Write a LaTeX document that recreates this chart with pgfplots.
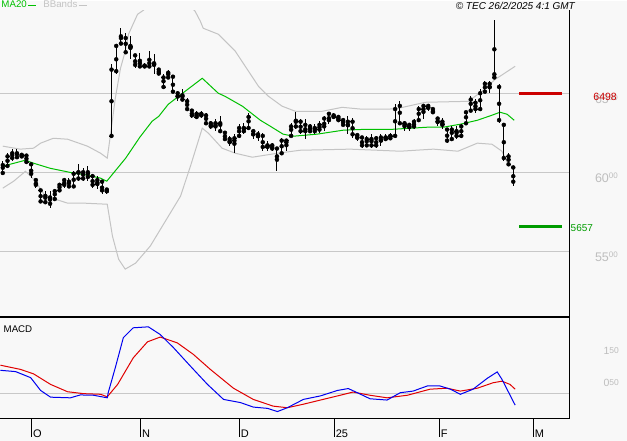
\documentclass[border=0pt]{standalone}
\usepackage{pgfplots}
\pgfplotsset{compat=1.18}
\usepackage{pgfplotstable}
\usepackage{fontspec}
\setmainfont{Liberation Sans}
\definecolor{bg}{HTML}{F8F8F8}
\definecolor{gridgray}{HTML}{C8C8C8}
\definecolor{bandgray}{HTML}{C4C4C4}
\definecolor{tickgray}{HTML}{BEBEBE}
\definecolor{magreen}{HTML}{00C000}
\definecolor{macdblue}{HTML}{0000F0}
\definecolor{sigred}{HTML}{E00000}
\definecolor{resred}{HTML}{CC0000}
\definecolor{supgreen}{HTML}{009C00}
\newcommand{\tl}[2]{#1\raisebox{3.2pt}{\fontsize{8}{8}\selectfont #2}}
\newcommand{\tm}[2]{#1\raisebox{0.8pt}{\fontsize{8.5}{8}\selectfont #2}}

\pgfplotstableread{
k O H L C
0 5995 6070 5987 6045
1 6040 6120 6025 6100
2 6090 6146 6070 6120
3 6120 6146 6083 6095
4 6100 6120 6089 6110
5 6105 6114 6057 6065
6 6050 6057 5962 5990
7 5950 5956 5899 5920
8 5885 5892 5804 5815
9 5810 5880 5797 5850
10 5840 5880 5772 5800
11 5830 5892 5829 5880
12 5885 5930 5880 5920
13 5920 5962 5899 5950
14 5940 5962 5899 5910
15 5910 6006 5899 5990
16 6000 6051 5943 5960
17 5960 6025 5943 6000
18 6000 6038 5943 5970
19 5975 5987 5899 5920
20 5925 5975 5892 5950
21 5940 5943 5861 5885
22 5880 5899 5861 5890
23 6230 6684 6215 6650
24 6640 6810 6620 6800
25 6815 6912 6810 6850
26 6850 6880 6747 6760
27 6790 6861 6715 6800
28 6740 6747 6658 6680
29 6690 6753 6658 6670
30 6670 6690 6658 6675
31 6670 6766 6658 6690
32 6690 6747 6620 6680
33 6650 6652 6620 6625
34 6600 6620 6532 6540
35 6600 6646 6595 6630
36 6605 6608 6500 6510
37 6500 6513 6449 6480
38 6480 6525 6449 6460
39 6450 6468 6386 6400
40 6390 6399 6342 6360
41 6350 6386 6335 6370
42 6360 6386 6342 6370
43 6360 6373 6304 6310
44 6310 6323 6272 6290
45 6290 6335 6260 6310
46 6310 6354 6247 6260
47 6250 6260 6196 6210
48 6210 6228 6165 6190
49 6200 6241 6120 6215
50 6230 6304 6215 6280
51 6280 6310 6241 6260
52 6280 6373 6272 6350
53 6260 6272 6209 6240
54 6240 6260 6196 6230
55 6230 6247 6133 6160
56 6160 6196 6133 6170
57 6170 6184 6133 6150
58 6150 6152 6006 6100
59 6120 6215 6114 6200
60 6190 6209 6133 6200
61 6230 6310 6228 6290
62 6290 6380 6272 6320
63 6320 6335 6241 6260
64 6260 6335 6209 6300
65 6290 6304 6247 6260
66 6260 6304 6241 6280
67 6270 6323 6247 6300
68 6290 6354 6260 6340
69 6330 6380 6304 6370
70 6360 6373 6335 6350
71 6350 6354 6323 6330
72 6330 6342 6291 6300
73 6300 6354 6241 6320
74 6320 6342 6215 6240
75 6235 6241 6196 6220
76 6220 6228 6152 6170
77 6170 6228 6165 6210
78 6210 6241 6152 6170
79 6170 6228 6152 6215
80 6200 6241 6165 6220
81 6220 6241 6196 6210
82 6215 6247 6209 6230
83 6230 6430 6215 6400
84 6420 6449 6304 6310
85 6310 6323 6260 6300
86 6290 6310 6260 6300
87 6290 6335 6272 6320
88 6330 6418 6323 6400
89 6400 6430 6335 6420
90 6420 6430 6386 6410
91 6400 6405 6367 6380
92 6340 6348 6291 6320
93 6320 6342 6272 6300
94 6270 6279 6184 6200
95 6210 6291 6209 6270
96 6260 6291 6209 6230
97 6230 6304 6215 6290
98 6310 6386 6310 6380
99 6390 6481 6386 6460
100 6440 6462 6373 6400
101 6400 6525 6386 6500
102 6510 6576 6500 6560
103 6560 6576 6500 6540
104 6600 6962 6595 6620
105 6540 6557 6310 6330
106 6300 6310 6070 6090
107 6100 6120 6038 6050
108 6030 6038 5911 5940
}\ohlc

\pgfplotstableread{
k P
0 6038
4.8 6076
6.5 6057
10 6025
15 5994
18 5981
20.7 5962
22 5943
26 6089
29 6222
31.6 6323
33 6354
35 6430
38.6 6513
42.2 6595
45.6 6500
47 6481
50.7 6418
54.5 6329
56.6 6291
59.3 6241
61.5 6228
66.5 6241
72 6266
77 6272
82.6 6272
89.8 6285
93.2 6285
96.8 6304
100.4 6329
103.5 6361
105.2 6380
106.7 6367
108.2 6329
}\maline

\pgfplotstableread{
k P
0 6165
3.7 6146
6.5 6152
8 6184
10.7 6215
13.7 6209
17.9 6165
20.7 6120
22.1 6089
22.8 6241
23.8 6468
24.9 6658
25.9 6766
26.6 6874
28.5 7000
29.7 7025
33.3 7114
37.2 7133
40.7 7019
41.8 6956
42.4 6912
45.6 6874
49.2 6766
52 6639
54.1 6544
56.2 6481
59.1 6418
61.9 6386
67.6 6386
71.8 6411
76 6399
81.5 6399
83.7 6405
89.4 6443
98.5 6449
101.4 6513
104.2 6589
105.2 6608
108.4 6671
}\upband

\pgfplotstableread{
k P
0 5899
2.3 5943
4.8 6006
6.9 5943
9 5848
11.1 5829
13.7 5804
17.1 5804
22.1 5797
23.2 5595
24.5 5449
25.9 5386
28.1 5424
31.2 5532
34.4 5690
37.6 5848
39.7 6038
42.2 6279
43.5 6247
46.4 6152
49.2 6120
52.8 6095
58.1 6120
62.9 6139
73.5 6146
84.1 6133
91.1 6146
96.3 6133
100.4 6184
103.5 6177
105.6 6133
106.9 6051
108.4 6025
}\loband

\pgfplotstableread{
k V
-0.5 0.71
2.7 0.67
5.9 0.48
8 0.08
10.1 -0.13
14.3 -0.15
16.4 -0.06
19.2 -0.07
22.1 -0.15
22.3 0.01
23.8 0.79
25.5 1.73
27.6 2.04
30.8 2.07
33.3 1.83
36.1 1.42
39.7 0.84
43.3 0.27
46.7 -0.2
50.3 -0.3
53 -0.44
56 -0.48
58.1 -0.58
60.2 -0.46
63.6 -0.2
67.2 -0.09
70.8 0.08
73.1 0.14
75 0.01
77.7 -0.18
81.3 -0.22
84.1 0.01
86.8 0.06
89.8 0.22
92.5 0.22
94.7 0.12
96.8 -0.04
99.5 0.12
102.5 0.46
104.6 0.66
105.6 0.43
108.4 -0.38
}\macd

\pgfplotstableread{
k V
-0.5 0.87
3.7 0.74
6.5 0.6
10.1 0.27
13.7 0.04
17.1 -0.02
20.7 -0.04
22.1 -0.12
24.3 0.27
27.6 1.1
30.6 1.6
33.3 1.75
36.9 1.57
40.3 1.21
43.9 0.74
48.8 0.15
53 -0.2
57.2 -0.41
60.2 -0.46
63.6 -0.35
67.2 -0.22
71.4 -0.07
74.1 0.03
77.7 -0.07
81.3 -0.15
85.6 -0.07
90.4 0.12
94 0.15
96.8 0.06
100.4 0.15
103.7 0.32
105.6 0.37
107.3 0.27
108.4 0.12
}\signal

\begin{document}
\begin{tikzpicture}
\fill[bg] (0pt,0pt) rectangle (627pt,-440pt);
\begin{axis}[
  at={(0pt,-9pt)}, anchor=north west,
  scale only axis, width=569pt, height=306pt,
  xmin=-0.486, xmax=119.8, ymin=5088.5, ymax=7025.5,
  axis line style={draw=none},
  xtick=\empty,
  ytick={5500,6000,6500},
  yticklabels={\tl{55}{00},\tl{60}{00},\tl{65}{00}},
  yticklabel pos=right,
  ytick pos=right,
  ytick align=inside,
  ytick style={draw=none},
  yticklabel style={anchor=base east, inner sep=0pt, xshift=49pt, yshift=-10pt, text=tickgray, font=\fontsize{12.5}{13}\selectfont},
  ymajorgrids, major grid style={gridgray, line width=1pt},
  clip mode=individual,
  legend style={at={(0,1)}, anchor=south west, draw=none, fill=none, legend columns=2, inner sep=0pt, font=\fontsize{9.7}{10}\selectfont, /tikz/every even column/.append style={column sep=6pt}, nodes={inner sep=0.8pt}},
  legend plot pos=right,
  legend cell align=left,
  legend image code/.code={\draw[#1] (0pt,0pt) -- (8pt,0pt);},
]
\addlegendimage{magreen, line width=1pt}
\addlegendentry{\textcolor{magreen}{MA20}}
\addlegendimage{bandgray, line width=1pt}
\addlegendentry{\textcolor{bandgray}{BBands}}
\addplot[bandgray, line width=1pt, forget plot] table[x=k, y=P] {\upband};
\addplot[bandgray, line width=1pt, forget plot] table[x=k, y=P] {\loband};
\addplot[magreen, line width=1pt, forget plot] table[x=k, y=P] {\maline};
\addplot[black, only marks, mark=none, forget plot,
  error bars/.cd, y dir=both, y explicit, error mark=none, error bar style={black, line width=1pt}]
  table[x=k, y expr={(\thisrow{H}+\thisrow{L})/2}, y error expr={(\thisrow{H}-\thisrow{L})/2}] {\ohlc};
\addplot[black, only marks, mark=none, forget plot,
  error bars/.cd, x dir=minus, x fixed=0.45, error mark=none, error bar style={black, line width=0.7pt}]
  table[x=k, y=O] {\ohlc};
\addplot[black, only marks, mark=none, forget plot,
  error bars/.cd, x dir=plus, x fixed=0.45, error mark=none, error bar style={black, line width=0.7pt}]
  table[x=k, y=C] {\ohlc};
\addplot[resred, line width=3pt, forget plot] coordinates {(109.3,6498) (118.3,6498)};
\addplot[supgreen, line width=2.5pt, forget plot] coordinates {(109.3,5657) (118.3,5657)};
\node[anchor=base east, text=resred, inner sep=0pt, font=\fontsize{10.5}{11}\selectfont, xshift=48pt, yshift=-7pt] at (axis cs:119.8,6498) {6498};
\node[anchor=base west, text=supgreen, inner sep=0pt, font=\fontsize{10}{11}\selectfont, xshift=1.5pt, yshift=-5pt] at (axis cs:119.8,5657) {5657};
\draw[black, line width=1pt] (rel axis cs:1,1) -- (rel axis cs:1,0) -- (rel axis cs:0,0);
\end{axis}
\begin{axis}[
  at={(0pt,-316pt)}, anchor=north west,
  scale only axis, width=569pt, height=102pt,
  xmin=-0.486, xmax=119.8, ymin=-0.8125, ymax=2.375,
  axis line style={draw=none},
  xtick={6.07,29.1,50.0,70.1,92.3,112.2},
  xticklabels={O,N,D,25,F,M},
  xtick pos=bottom,
  xtick align=outside,
  major tick length=18pt,
  xtick style={black, line width=1pt},
  xticklabel style={anchor=base west, inner sep=0pt, xshift=1.5pt, yshift=-1pt, font=\fontsize{11}{12}\selectfont},
  ytick={0.5,1.5},
  yticklabels={\tm{0}{50},\tm{1}{50}},
  yticklabel pos=right,
  ytick pos=right,
  ytick align=inside,
  ytick style={draw=none},
  yticklabel style={anchor=base east, inner sep=0pt, xshift=50pt, yshift=-9pt, text=tickgray, font=\fontsize{10.5}{11}\selectfont},
  clip mode=individual,
]
\draw[gridgray, line width=1pt] (axis cs:-0.486,0) -- (axis cs:119.8,0);
\addplot[sigred, line width=1pt] table[x=k, y=V] {\signal};
\addplot[macdblue, line width=1pt] table[x=k, y=V] {\macd};
\node[anchor=base west, inner sep=0pt, font=\fontsize{9.7}{10}\selectfont, xshift=3pt, yshift=-15.5pt] at (rel axis cs:0,1) {MACD};
\draw[black, line width=1pt] (rel axis cs:0,1) -- (rel axis cs:1,1) -- (rel axis cs:1,0) -- (rel axis cs:0,0);
\end{axis}
\node[anchor=north east, inner sep=0pt, font=\itshape\fontsize{10}{11}\selectfont] at (575pt,-0.5pt) {© TEC 26/2/2025 4:1 GMT};
\end{tikzpicture}
\end{document}
